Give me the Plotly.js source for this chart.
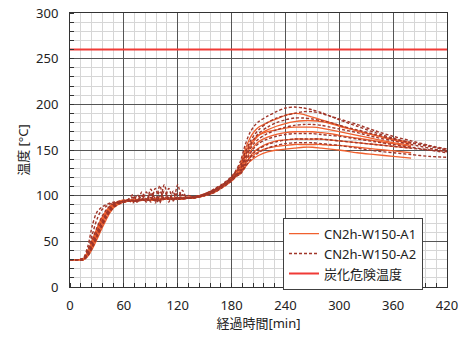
<!DOCTYPE html>
<html><head><meta charset="utf-8">
<script src="https://cdn.plot.ly/plotly-3.0.1.min.js"></script>
<style>html,body{margin:0;padding:0;background:#fff}#chart{width:460px;height:338px}</style>
</head><body><div id="chart"></div>
<script>
const time = [0,10,15,20,25,30,35,40,45,50,55,60,65,70,75,80,85,90,95,100,105,110,115,120,125,130,140,150,160,170,180,185,190,195,200,205,210,220,230,240,250,260,270,280,290,300,320,340,360,380,400,420];

const a1_1 = [30,30,31,40,52,64,75,83,89,92,94,95, 95,96,96,96,96,96,97,97,97,97,97,97,98,98, 99,102,106,112,120,126, 135,150,162,170,175,180,184,188,190,189,186,183,180,177,171,166,162,158,null,null];
const a1_2 = [30,30,30,36,46,58,70,79,86,90,93,94, 95,95,95,96,96,96,96,96,97,97,97,97,97,98, 99,101,105,111,118,124, 130,142,152,160,166,172,176,179,181,182,182,181,179,176,171,166,161,157,null,null];
const a1_3 = [30,30,31,38,50,62,73,81,87,91,93,94, 94,95,95,95,96,96,96,96,96,97,97,97,97,97, 98,101,105,111,119,126, 132,146,156,162,166,170,172,174,175,175,175,174,172,170,166,162,158,155,null,null];
const a1_4 = [30,30,30,35,44,55,66,76,84,89,92,93, 94,94,95,95,95,95,96,96,96,96,96,97,97,97, 98,100,104,110,117,122, 128,138,147,154,159,164,167,169,170,170,170,169,168,166,163,160,157,154,null,null];
const a1_5 = [30,30,31,39,51,63,74,82,88,91,93,94, 95,95,95,95,96,96,96,96,96,96,97,97,97,97, 98,101,105,110,117,122, 126,134,142,148,152,157,160,161,162,162,162,162,161,160,158,156,154,152,null,null];
const a1_6 = [30,30,30,37,47,59,70,79,86,90,92,93, 94,94,95,95,95,95,95,96,96,96,96,96,97,97, 98,100,104,110,118,123, 127,135,141,145,148,152,154,155,156,156,156,156,155,155,153,151,149,147,null,null];
const a1_7 = [30,30,30,34,42,52,63,73,82,88,91,93, 94,94,94,95,95,95,95,95,96,96,96,96,96,97, 98,100,103,109,116,121, 124,131,137,141,144,148,150,151,152,153,153,152,151,150,147,145,143,141,null,null];

const a2_1 = [30,30,32,45,68,82,87,90,92,93,94,95, 96,101,93,104,94,107,92,111,95,108,94,112,96,100, 99,102,107,113,121,128, 138,155,168,176,181,187,192,196,197,196,194,191,187,183,176,169,163,158,154,150];
const a2_2 = [30,30,31,41,58,74,84,88,91,92,93,94, 95,92,101,95,104,93,108,94,112,93,105,97,106,98, 99,101,106,112,120,127, 133,147,158,166,172,180,185,188,190,192,192,190,187,184,178,171,165,160,155,151];
const a2_3 = [30,30,31,37,48,60,71,80,87,91,93,94, 96,98,94,100,93,102,97,92,105,96,103,95,101,98, 99,102,106,112,120,126, 130,143,154,162,168,175,180,183,185,185,184,182,180,177,172,167,162,158,154,150];
const a2_4 = [30,30,30,35,45,56,67,77,85,90,92,93, 95,98,93,100,96,102,94,105,97,100,95,103,98,97, 98,101,105,111,118,123, 128,140,150,157,162,168,172,175,177,178,178,177,175,173,169,164,160,156,152,148];
const a2_5 = [30,30,30,36,46,57,68,78,85,89,92,93, 94,94,95,97,94,98,95,99,96,98,95,99,97,97, 98,100,104,110,117,122, 126,136,145,152,157,162,165,167,168,168,168,167,166,165,162,159,156,153,150,147];
const a2_6 = [30,30,31,39,52,65,76,84,89,92,93,94, 95,95,95,96,96,96,96,96,97,97,97,97,97,98, 99,101,105,111,118,123, 125,133,141,147,151,156,159,161,162,162,162,162,161,160,158,156,154,152,150,149];
const a2_7 = [30,30,30,34,43,54,65,75,83,88,91,93, 94,94,94,95,95,95,95,95,96,96,96,96,96,97, 98,100,103,109,116,121, 124,131,138,143,147,152,155,157,158,158,158,157,156,155,152,149,147,145,143,142];

const dangerX = [0, 420];
const dangerY = [260, 260];

const nameA1 = 'CN2h-W150-A1';
const nameA2 = 'CN2h-W150-A2';
const nameDanger = '炭化危険温度';
const xTitle = '経過時間[min]';
const yTitle = '温度 [°C]';

const colA1 = '#F0602E';
const colA2 = '#A0362A';
const colDanger = '#F03A36';

const seriesA1 = [a1_1,a1_2,a1_3,a1_4,a1_5,a1_6,a1_7];
const seriesA2 = [a2_1,a2_2,a2_3,a2_4,a2_5,a2_6,a2_7];

const traces = [];
seriesA1.forEach((y,i)=>traces.push({x:time,y:y,type:'scatter',mode:'lines',name:nameA1,legendgroup:'a1',showlegend:i===0,
  line:{color:colA1,width:1.3,shape:'spline',smoothing:0.8},connectgaps:false}));
seriesA2.forEach((y,i)=>traces.push({x:time,y:y,type:'scatter',mode:'lines',name:nameA2,legendgroup:'a2',showlegend:i===0,
  line:{color:colA2,width:1.4,dash:'3px,2px',shape:'spline',smoothing:0.8}}));
const ordered = [traces[0], traces[7]].concat(traces.slice(1,7), traces.slice(8));
ordered.push({x:dangerX,y:dangerY,type:'scatter',mode:'lines',name:nameDanger,line:{color:colDanger,width:2}});

const font = {family:'"Noto Sans", "Noto Sans CJK JP", sans-serif', size:13, color:'#222'};

const layout = {
  width:460,height:338,
  margin:{l:70,r:13,t:13,b:51},
  paper_bgcolor:'#fff',plot_bgcolor:'#fff',
  font:font,
  showlegend:true,
  legend:{x:0.565,y:0.253,xanchor:'left',yanchor:'top',bgcolor:'#fff',bordercolor:'#404040',borderwidth:1,
    font:{family:font.family,size:13,color:'#222'},tracegroupgap:0,itemwidth:30},
  xaxis:{range:[0,420],dtick:60,tick0:0,showgrid:true,gridcolor:'#555',gridwidth:1,zeroline:false,
    showline:true,linecolor:'#333',linewidth:1,mirror:true,ticks:'outside',ticklen:6,tickcolor:'rgba(0,0,0,0)',
    minor:{dtick:12,showgrid:true,gridcolor:'#D6D6D6',gridwidth:1,ticks:'inside',ticklen:4,tickcolor:'#333'},
    title:{text:xTitle,font:{family:font.family,size:13,color:'#222'},standoff:4},
    tickfont:{family:font.family,size:13,color:'#222'}},
  yaxis:{range:[0,300],dtick:50,tick0:0,showgrid:true,gridcolor:'#555',gridwidth:1,zeroline:false,
    showline:true,linecolor:'#333',linewidth:1,mirror:true,ticks:'outside',ticklen:8,tickcolor:'rgba(0,0,0,0)',
    minor:{dtick:10,showgrid:true,gridcolor:'#D6D6D6',gridwidth:1,ticks:'inside',ticklen:4,tickcolor:'#333'},
    title:{text:yTitle,font:{family:font.family,size:13,color:'#222'},standoff:4},
    tickfont:{family:font.family,size:13,color:'#222'}}
};

Plotly.newPlot('chart', ordered, layout, {staticPlot:true, displayModeBar:false});
</script>
</body></html>
